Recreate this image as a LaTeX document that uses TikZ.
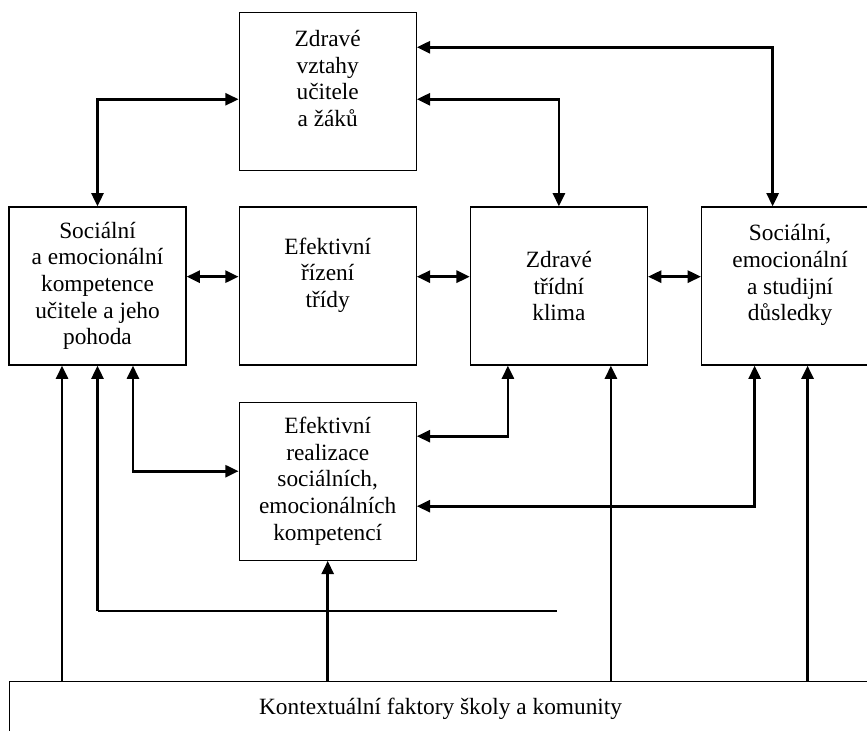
\documentclass[tikz,border=0pt]{standalone}
\usepackage{fontspec}
\setmainfont{Liberation Serif}
\usetikzlibrary{positioning}
\usetikzlibrary{arrows.meta}

\begin{document}
\begin{tikzpicture}[x=0.75pt, y=-0.75pt,
    every node/.style={font=\fontsize{17.5pt}{20pt}\selectfont, align=center},
    box/.style={draw, line width=0.9pt, rectangle, minimum width=132.75pt, minimum height=118.5pt, inner sep=2pt},
    arr/.style={line width=2.1pt, -{Triangle[length=10pt, width=9pt]}},
    darr/.style={line width=2.1pt, {Triangle[length=10pt, width=9pt]}-{Triangle[length=10pt, width=9pt]}}]

    \useasboundingbox (0,0) rectangle (867,731);

    \node[box] (soc) at (97.5,286) {Sociální\\a emocionální\\kompetence\\učitele a jeho\\pohoda};
    \node[box, right=39pt of soc] (rizeni) {Efektivní\\řízení\\třídy\\~};
    \node[box, right=39.75pt of rizeni] (klima) {Zdravé\\třídní\\klima};
    \node[box, right=39.75pt of klima] (dusl) {Sociální,\\emocionální\\a studijní\\důsledky\\~};
    \node[box, above=26.25pt of rizeni] (vztahy) {Zdravé\\vztahy\\učitele\\a žáků\\~};
    \node[box, below=27pt of rizeni] (real) {Efektivní\\realizace\\sociálních,\\emocionálních\\kompetencí};
    \node[draw, line width=0.9pt, minimum width=646.5pt, minimum height=40.5pt, anchor=north west] (kontext) at (9,681) {Kontextuální faktory školy a komunity};

    \coordinate (s1) at ([xshift=-26.6pt]soc.south);
    \coordinate (s3) at ([xshift=26.6pt]soc.south);
    \coordinate (k1) at ([xshift=-38.25pt]klima.south);
    \coordinate (k2) at ([xshift=39pt]klima.south);
    \coordinate (d0) at ([xshift=-13.1pt]dusl.north);
    \coordinate (d1) at ([xshift=-26.6pt]dusl.south);
    \coordinate (d2) at ([xshift=13.1pt]dusl.south);
    \coordinate (ls) at (soc.south |- 0,611);
    \coordinate (le) at (557,611);

    \draw[darr] (soc.north) |- ([yshift=-5.6pt]vztahy.west);
    \draw[darr] ([yshift=-5.6pt]vztahy.east) -| (klima.north);
    \draw[darr] ([yshift=33.4pt]vztahy.east) -| (d0);

    \draw[darr] ([yshift=7pt]soc.east) -- ([yshift=7pt]rizeni.west);
    \draw[darr] ([yshift=7pt]rizeni.east) -- ([yshift=7pt]klima.west);
    \draw[darr] ([yshift=7pt]klima.east) -- ([yshift=7pt]dusl.west);

    \draw[darr] (s3) |- ([yshift=7.5pt]real.west);
    \draw[darr] (k1) |- ([yshift=33.75pt]real.east);
    \draw[darr] (d1) |- ([yshift=-18.75pt]real.east);

    \draw[arr] (s1 |- kontext.north) -- (s1);
    \draw[arr] (ls) -- (soc.south);
    \draw[line width=1.1pt] (ls) -- (le);
    \draw[arr] (real.south |- kontext.north) -- (real.south);
    \draw[arr] (k2 |- kontext.north) -- (k2);
    \draw[arr] (d2 |- kontext.north) -- (d2);
\end{tikzpicture}
\end{document}
